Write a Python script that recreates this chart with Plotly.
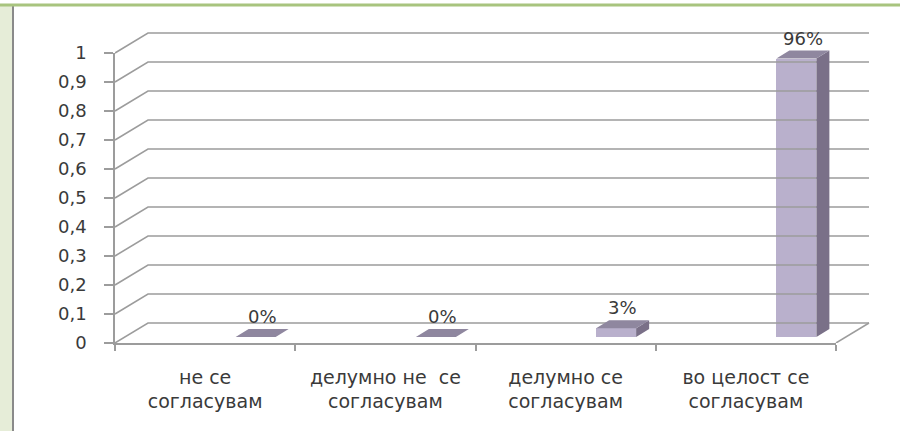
import plotly.graph_objects as go

# ---- data ----
categories = ["не се<br>согласувам", "делумно не  се<br>согласувам",
              "делумно се<br>согласувам", "во целост се<br>согласувам"]
values = [0.0, 0.0, 0.03, 0.96]
value_labels = ["0%", "0%", "3%", "96%"]
y_ticks = [0, 0.1, 0.2, 0.3, 0.4, 0.5, 0.6, 0.7, 0.8, 0.9, 1]
y_tick_labels = ["0", "0,1", "0,2", "0,3", "0,4", "0,5", "0,6", "0,7", "0,8", "0,9", "1"]

# ---- geometry (pixels -> data units) ----
W, H = 900, 431
ML, MR, MT, MB = 115, 15, 24, 88
PW = W - ML - MR
PH = H - MT - MB
CAT_PX = 721 / 4.0          # pixels per category
Y_PX = 290.0                # pixels per unit of value
DX = 33 / CAT_PX            # depth of the wall (x)
DY = 20 / Y_PX              # depth of the wall (y)
BDX = 13 / CAT_PX           # bar depth (x)
BDY = 8 / Y_PX              # bar depth (y)
OFF = 30.5 / CAT_PX         # bar front-left offset from category centre
BW = 40 / CAT_PX            # bar width
BASE = 6 / Y_PX             # bar base (in depth)

n = len(categories)
xpos = list(range(n))
x_lo = -0.5
x_hi = n - 0.5
x2_range = [x_lo, x_lo + PW / CAT_PX]
y2_range = [0, PH / Y_PX]

GRID = "#9c9c9c"
FRONT = "#b9b0cc"
SIDE = "#7a7088"
TOP = "#8f879f"
TXT = "#3a3a3a"
FONT = "DejaVu Sans"

fig = go.Figure()

# invisible trace so the visible axes (x / y) are drawn
fig.add_trace(go.Scatter(x=xpos, y=values, mode="markers", marker=dict(opacity=0),
                         xaxis="x", yaxis="y", hoverinfo="skip", showlegend=False))

# back wall gridlines + diagonals
gx, gy = [], []
for v in y_ticks:
    gx += [x_lo, x_lo + DX, x_hi + DX, None]
    gy += [v, v + DY, v + DY, None]
# right floor diagonal
gx += [x_hi, x_hi + DX, None]
gy += [0, DY, None]
fig.add_trace(go.Scatter(x=gx, y=gy, mode="lines", line=dict(color=GRID, width=1.5),
                         xaxis="x2", yaxis="y2", hoverinfo="skip", showlegend=False))

# bar front faces
fig.add_trace(go.Bar(x=xpos, y=values, base=[BASE] * n, offset=OFF, width=BW,
                     marker=dict(color=FRONT, line=dict(width=0)),
                     xaxis="x2", yaxis="y2", showlegend=False))

# side and top faces
sx, sy = [], []
tx, ty = [], []
for i, v in enumerate(values):
    xl = i + OFF
    xr = xl + BW
    top = BASE + v
    sx += [xr, xr + BDX, xr + BDX, xr, xr, None]
    sy += [BASE, BASE + BDY, top + BDY, top, BASE, None]
    tx += [xl, xr, xr + BDX, xl + BDX, xl, None]
    ty += [top, top, top + BDY, top + BDY, top, None]
fig.add_trace(go.Scatter(x=sx, y=sy, mode="lines", fill="toself", fillcolor=SIDE,
                         line=dict(width=0, color=SIDE), xaxis="x2", yaxis="y2",
                         hoverinfo="skip", showlegend=False))
fig.add_trace(go.Scatter(x=tx, y=ty, mode="lines", fill="toself", fillcolor=TOP,
                         line=dict(width=0, color=TOP), xaxis="x2", yaxis="y2",
                         hoverinfo="skip", showlegend=False))

# value labels
for i, (v, lab) in enumerate(zip(values, value_labels)):
    fig.add_annotation(x=i + OFF + BW / 2 + BDX / 2, y=BASE + v + BDY, text=lab,
                       xref="x2", yref="y2", showarrow=False, yanchor="bottom",
                       yshift=0, font=dict(family=FONT, size=18, color=TXT))

# frame decorations (pixel -> paper)
def px2paper_x(px):
    return (px - ML) / PW

def px2paper_y(py):
    return (H - MB - py) / PH

fig.add_shape(type="rect", xref="paper", yref="paper",
              x0=px2paper_x(0), x1=px2paper_x(12), y0=px2paper_y(H), y1=px2paper_y(6),
              fillcolor="#e6edd8", line=dict(width=0), layer="below")
fig.add_shape(type="line", xref="paper", yref="paper",
              x0=px2paper_x(13), x1=px2paper_x(13), y0=px2paper_y(H), y1=px2paper_y(6),
              line=dict(color="#8a8a8a", width=2))
fig.add_shape(type="line", xref="paper", yref="paper",
              x0=px2paper_x(0), x1=px2paper_x(W), y0=px2paper_y(5), y1=px2paper_y(5),
              line=dict(color="#a8c47e", width=3))

fig.update_layout(
    width=W, height=H,
    margin=dict(l=ML, r=MR, t=MT, b=MB, pad=0),
    paper_bgcolor="white", plot_bgcolor="rgba(0,0,0,0)",
    showlegend=False, bargap=0,
    xaxis=dict(domain=[0, (x_hi - x_lo) * CAT_PX / PW], range=[x_lo, x_hi], anchor="y",
               tickmode="array", tickvals=xpos, ticktext=categories, ticks="",
               showline=True, linecolor=GRID, linewidth=1.5, showgrid=False, zeroline=False,
               tickfont=dict(family=FONT, size=19, color=TXT), ticklabelstandoff=16,
               minor=dict(tickmode="array", tickvals=[x - 0.5 for x in range(n + 1)],
                          ticks="outside", ticklen=6, tickcolor=GRID, tickwidth=1.5,
                          showgrid=False)),
    yaxis=dict(domain=[0, Y_PX / PH], range=[0, 1], anchor="x",
               tickmode="array", tickvals=y_ticks, ticktext=y_tick_labels,
               ticks="outside", ticklen=9, tickcolor=GRID, tickwidth=1.5,
               showline=True, linecolor=GRID, linewidth=1.5, showgrid=False, zeroline=False,
               tickfont=dict(family=FONT, size=18, color=TXT), ticklabelstandoff=14),
    xaxis2=dict(domain=[0, 1], range=x2_range, anchor="y2", visible=False),
    yaxis2=dict(domain=[0, 1], range=y2_range, anchor="x2", visible=False),
)

fig.write_html("out.html", config={"displayModeBar": False},
               post_script="document.body.style.margin='0';")
